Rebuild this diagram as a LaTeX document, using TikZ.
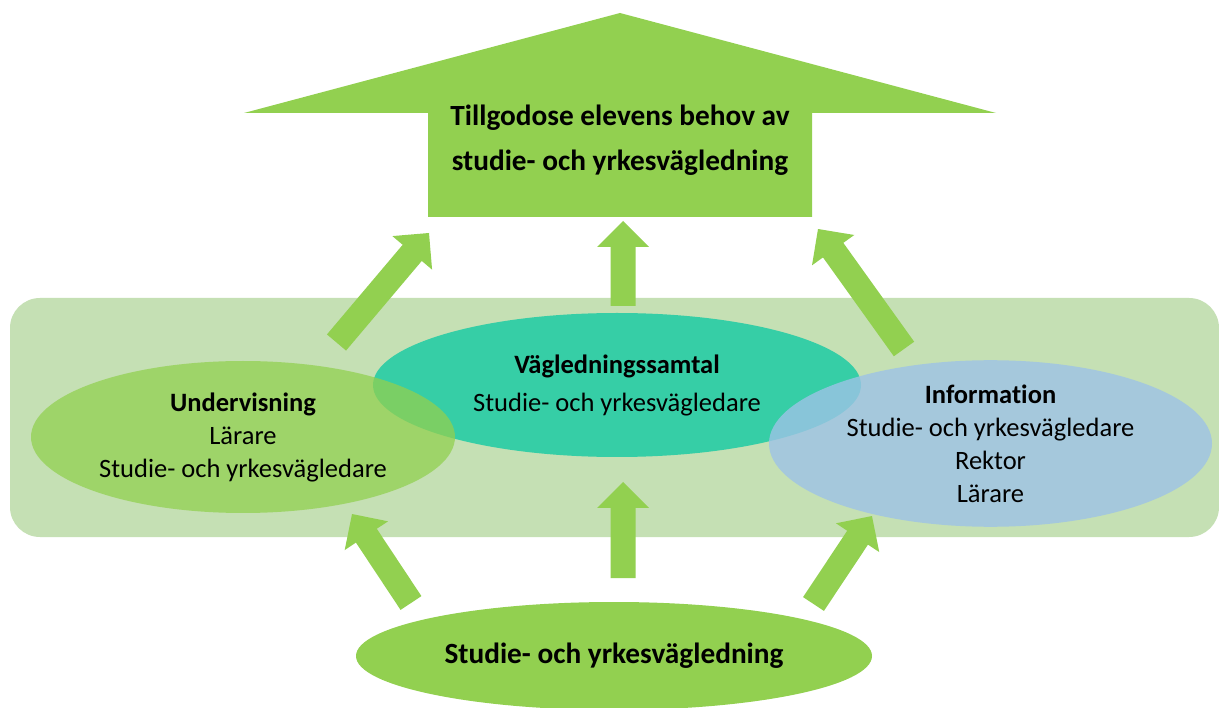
\documentclass[tikz,border=0pt]{standalone}
\usepackage{fontspec}
\setmainfont{Carlito}[Ligatures={NoCommon}]
\usetikzlibrary{shapes.geometric,calc}
\definecolor{agreen}{HTML}{92D050}
\definecolor{bggreen}{HTML}{C5E0B4}
\definecolor{tealfill}{HTML}{36CEA6}
\definecolor{lblue}{HTML}{9DC3E6}
\tikzset{
  oval/.style={ellipse, inner sep=0pt, align=center, font=\fontsize{26.5}{33}\selectfont},
  bigtxt/.style={font=\bfseries\fontsize{29.3}{45}\selectfont, align=center},
  blockfill/.style={fill=agreen},
}
\newcommand{\blkarrow}[2]{%
  \fill[blockfill] let \p1=($(#2)-(#1)$), \n1={veclen(\x1,\y1)}, \n2={atan2(\y1,\x1)} in
    [shift={(#1)}, rotate=\n2] (0,-12.5) -- (\n1-26,-12.5) -- (\n1-26,-26) -- (\n1,0)
    -- (\n1-26,26) -- (\n1-26,12.5) -- (0,12.5) -- cycle;}
\begin{document}
\begin{tikzpicture}[x=1pt,y=-1pt]
\useasboundingbox (0,0) rectangle (1219,708);
\fill[white] (0,0) rectangle (1219,708);
% background band
\node[fill=bggreen, rounded corners=30pt, minimum width=1209pt, minimum height=239pt, inner sep=0pt] (band) at (614.5,417.5) {};
% ellipses
\node[oval, fill=tealfill, minimum width=488pt, minimum height=144pt] (vag) at (617,385)
  {\textbf{Vägledningssamtal}\\[5pt] Studie- och yrkesvägledare};
\node[oval, fill=agreen, fill opacity=0.75, text opacity=1, minimum width=424pt, minimum height=152pt] (und) at (243,437)
  {\textbf{Undervisning}\\ Lärare\\ Studie- och yrkesvägledare};
\node[oval, fill=lblue, fill opacity=0.8, text opacity=1, minimum width=443pt, minimum height=147pt] (inf) at (990.5,443.5)
  {\textbf{Information}\\ Studie- och yrkesvägledare\\ Rektor\\ Lärare};
\node[oval, fill=agreen, minimum width=516pt, minimum height=108pt, font=\bfseries\fontsize{29.3}{35}\selectfont] (syv) at (614,656)
  {Studie- och yrkesvägledning};
% big arrow
\coordinate (apex) at (620,13);
\coordinate (hl) at (244,113);
\coordinate (hr) at (996,113);
\coordinate (bl) at (428,217);
\coordinate (br) at (812,217);
\fill[blockfill] (hl) -- (apex) -- (hr) -- (br |- hr) -- (br) -- (bl) -- (bl |- hl) -- cycle;
\node[bigtxt] (goal) at (620,140.5) {Tillgodose elevens behov av\\ studie- och yrkesvägledning};
% small arrows
\coordinate (tls) at (336.5,342.5); \coordinate (tle) at (429,233);
\coordinate (tms) at (623,306);     \coordinate (tme) at (623,221);
\coordinate (trs) at (904,349);     \coordinate (tre) at (818,229);
\coordinate (bls) at (411,603);     \coordinate (ble) at (352,514);
\coordinate (bms) at (623,578);     \coordinate (bme) at (623,482);
\coordinate (brs) at (813.5,604);   \coordinate (bre) at (872,516);
\blkarrow{tls}{tle}
\blkarrow{tms}{tme}
\blkarrow{trs}{tre}
\blkarrow{bls}{ble}
\blkarrow{bms}{bme}
\blkarrow{brs}{bre}
\end{tikzpicture}
\end{document}
